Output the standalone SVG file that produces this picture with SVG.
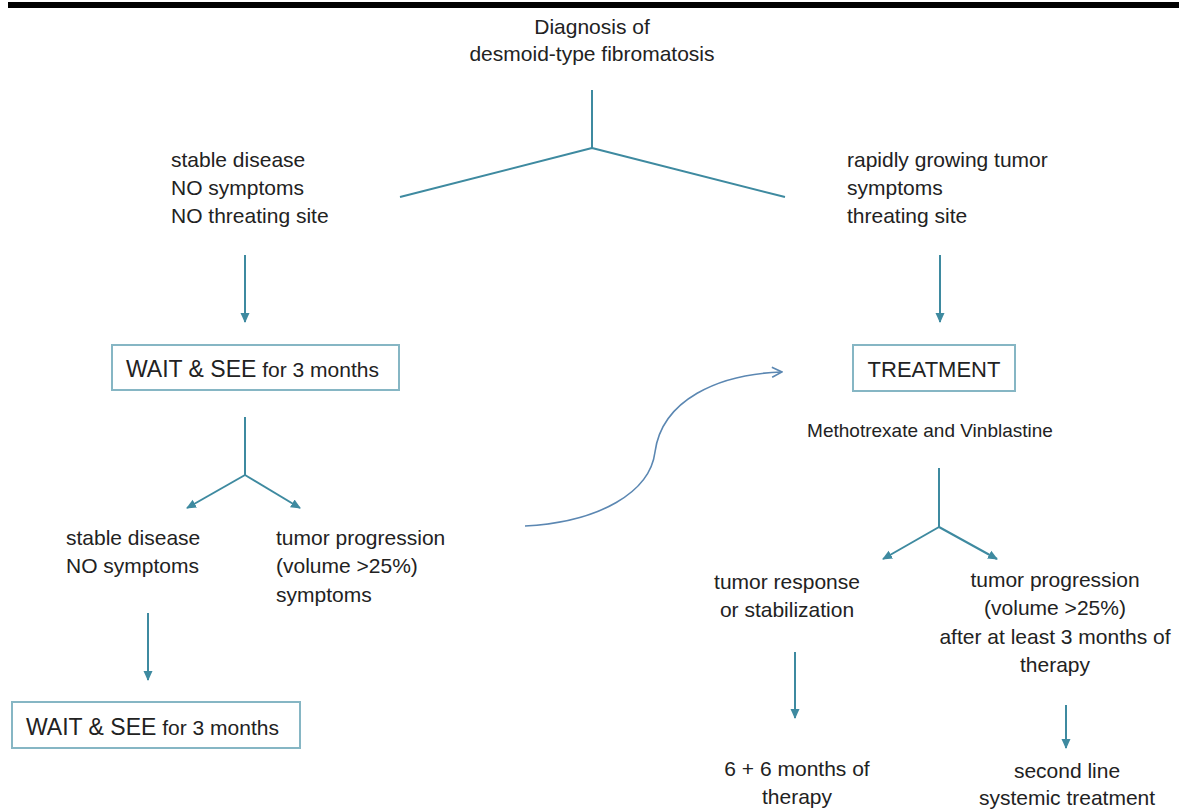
<svg xmlns="http://www.w3.org/2000/svg" width="1179" height="811" viewBox="0 0 1179 811">
<defs>
<style>
text{font-family:"Liberation Sans",Arial,sans-serif;font-size:21px;fill:#222}
.c{text-anchor:middle}
.big{font-size:23px}
.sm{font-size:19px}
.ln{fill:none;stroke:#3e8aa0;stroke-width:2}
.box{fill:#fff;stroke:#86b6c4;stroke-width:2}
.cv{fill:none;stroke:#5b87b2;stroke-width:1.6}
</style>
<marker id="ah" viewBox="0 0 10 10" refX="9" refY="5" markerWidth="10" markerHeight="10" markerUnits="userSpaceOnUse" orient="auto">
<path d="M0,0.5 L10,5 L0,9.5 z" fill="#3e8aa0"/>
</marker>
<marker id="oh" viewBox="0 0 12 12" refX="11" refY="6" markerWidth="12" markerHeight="12" markerUnits="userSpaceOnUse" orient="auto">
<path d="M1,1 L11,6 L1,11" fill="none" stroke="#5b87b2" stroke-width="1.6"/>
</marker>
</defs>
<rect width="1179" height="811" fill="#fff"/>
<rect x="8" y="2" width="1171" height="6" fill="#000"/>

<g id="connectors">
<path class="ln" d="M592,90 L592,148 M592,148 L400,197 M592,148 L785,197"/>
<path class="ln" d="M245,255 L245,322" marker-end="url(#ah)"/>
<path class="ln" d="M940,255 L940,322" marker-end="url(#ah)"/>
<path class="ln" d="M245,417 L245,475"/>
<path class="ln" d="M245,475 L187,508" marker-end="url(#ah)"/>
<path class="ln" d="M245,475 L300,508" marker-end="url(#ah)"/>
<path class="ln" d="M148,613 L148,680" marker-end="url(#ah)"/>
<path class="cv" d="M525,526 C600,522 650,492 655,452 C662,400 718,374 782,372" marker-end="url(#oh)"/>
<path class="ln" d="M939,468 L939,527"/>
<path class="ln" d="M939,527 L883,559" marker-end="url(#ah)"/>
<path class="ln" d="M939,527 L997,559" marker-end="url(#ah)"/>
<path class="ln" d="M795,652 L795,718" marker-end="url(#ah)"/>
<path class="ln" d="M1066,705 L1066,748" marker-end="url(#ah)"/>
</g>

<g id="diagnosis">
<text class="c" x="592" y="34">Diagnosis of</text>
<text class="c" x="592" y="61">desmoid-type fibromatosis</text>
</g>

<g id="stable-left">
<text x="171" y="167">stable disease</text>
<text x="171" y="195">NO symptoms</text>
<text x="171" y="223">NO threating site</text>
</g>

<g id="rapid-right">
<text x="847" y="167">rapidly growing tumor</text>
<text x="847" y="195">symptoms</text>
<text x="847" y="223">threating site</text>
</g>

<g id="wait1">
<rect class="box" x="112" y="345" width="287" height="45"/>
<text x="126" y="377"><tspan class="big">WAIT &amp; SEE</tspan> for 3 months</text>
</g>

<g id="treatment">
<rect class="box" x="853" y="345" width="162" height="46"/>
<text class="c big" x="934" y="377" style="font-size:22px">TREATMENT</text>
<text class="c sm" x="930" y="437">Methotrexate and Vinblastine</text>
</g>

<g id="stable2">
<text x="66" y="545">stable disease</text>
<text x="66" y="573">NO symptoms</text>
</g>

<g id="progression-left">
<text x="276" y="545">tumor progression</text>
<text x="276" y="573">(volume &gt;25%)</text>
<text x="276" y="602">symptoms</text>
</g>

<g id="wait2">
<rect class="box" x="12" y="702" width="288" height="46"/>
<text x="26" y="735"><tspan class="big">WAIT &amp; SEE</tspan> for 3 months</text>
</g>

<g id="response">
<text class="c" x="787" y="589">tumor response</text>
<text class="c" x="787" y="617">or stabilization</text>
</g>

<g id="progression-right">
<text class="c" x="1055" y="587">tumor progression</text>
<text class="c" x="1055" y="615">(volume &gt;25%)</text>
<text class="c" x="1055" y="644">after at least 3 months of</text>
<text class="c" x="1055" y="672">therapy</text>
</g>

<g id="six-months">
<text class="c" x="797" y="776">6 + 6 months of</text>
<text class="c" x="797" y="804">therapy</text>
</g>

<g id="second-line">
<text class="c" x="1067" y="778">second line</text>
<text class="c" x="1067" y="805">systemic treatment</text>
</g>
</svg>
